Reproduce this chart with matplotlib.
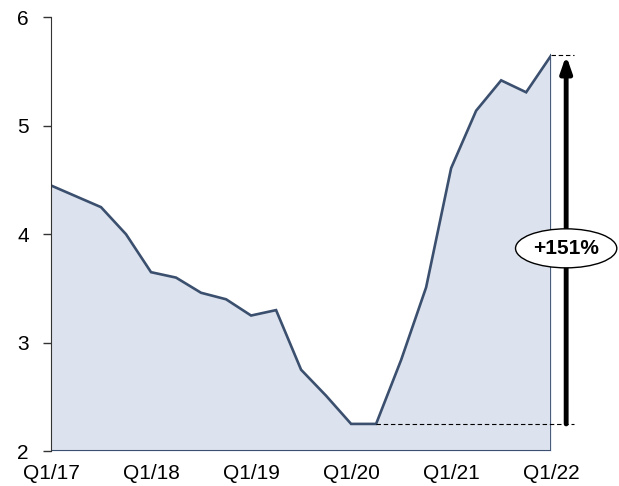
import matplotlib.pyplot as plt
from matplotlib.patches import Ellipse

plt.rcParams['font.family'] = ['Liberation Sans', 'DejaVu Sans']

quarters = ['Q1/17', 'Q2/17', 'Q3/17', 'Q4/17', 'Q1/18', 'Q2/18', 'Q3/18', 'Q4/18',
            'Q1/19', 'Q2/19', 'Q3/19', 'Q4/19', 'Q1/20', 'Q2/20', 'Q3/20', 'Q4/20',
            'Q1/21', 'Q2/21', 'Q3/21', 'Q4/21', 'Q1/22']
values = [4.45, 4.35, 4.25, 4.0, 3.65, 3.60, 3.46, 3.40, 3.25, 3.30, 2.75, 2.51,
          2.25, 2.25, 2.84, 3.51, 4.61, 5.14, 5.42, 5.31, 5.65]
tick_labels = ['Q1/17', 'Q1/18', 'Q1/19', 'Q1/20', 'Q1/21', 'Q1/22']
change_label = '+151%'

x = list(range(len(values)))
line_col = '#3b4f6e'
fill_col = '#dde3ee'

fig = plt.figure(figsize=(6.19, 4.86), dpi=100)
ax = fig.add_axes([0.0824, 0.072, 0.808, 0.892])

ax.fill_between(x, values, 2, color=fill_col, lw=0)
ax.plot(x, values, color=line_col, lw=1.9, solid_joinstyle='miter')
ax.plot([x[-1], x[-1]], [2, values[-1]], color=line_col, lw=1.3)
ax.plot([0, x[-1]], [2, 2], color=line_col, lw=1.5)

ax.set_xlim(0, len(values) - 1)
ax.set_ylim(2, 6)
ax.set_yticks([2, 3, 4, 5, 6])
ax.set_xticks([quarters.index(t) for t in tick_labels])
ax.set_xticklabels(tick_labels)
ax.tick_params(axis='y', length=6, width=1, color='#333333', labelsize=15, pad=10)
ax.tick_params(axis='x', length=0, labelsize=15, pad=9)

for s in ['top', 'right']:
    ax.spines[s].set_visible(False)
ax.spines['left'].set_color('#333333')
ax.spines['bottom'].set_visible(False)

# low / high reference lines and arrow
low = min(values)
low_i = len(values) - 1 - values[::-1].index(low)
x_arrow = x[-1] + 0.6
ax.plot([low_i, x[-1] + 0.9], [low, low], color='black', lw=0.8, ls=(0, (4, 2.5)), clip_on=False)
ax.plot([x[-1], x[-1] + 0.9], [values[-1], values[-1]], color='black', lw=0.8, ls=(0, (4, 2.5)), clip_on=False)
ax.annotate('', xy=(x_arrow, values[-1]), xytext=(x_arrow, low),
            arrowprops=dict(arrowstyle='-|>,head_width=0.33,head_length=0.95', color='black', lw=3.5,
                            shrinkA=0, shrinkB=0), annotation_clip=False)

ell = Ellipse((x_arrow, 3.87), width=4.05, height=0.36, facecolor='white', edgecolor='black',
              lw=1.0, clip_on=False, zorder=5)
ax.add_patch(ell)
ax.text(x_arrow, 3.87, change_label, ha='center', va='center', fontsize=15,
        fontweight='bold', zorder=6)

fig.savefig('out.png', dpi=100)
